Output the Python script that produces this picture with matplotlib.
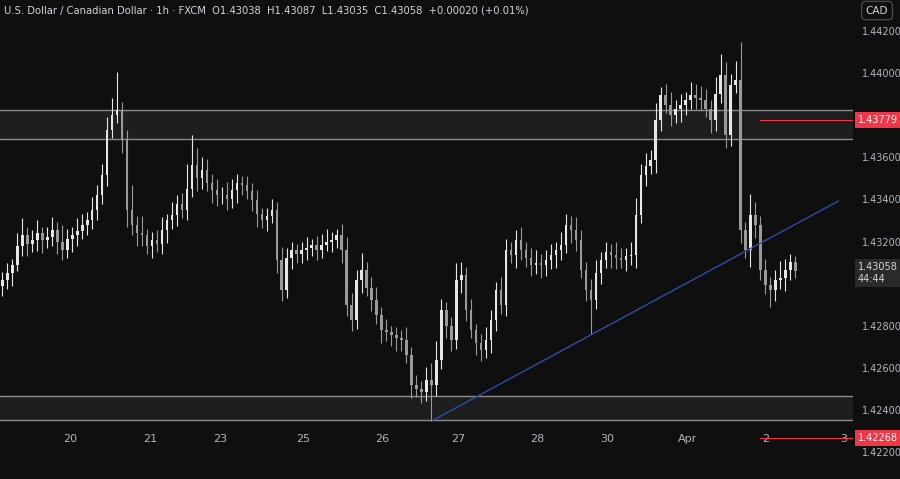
"""USD/CAD 1h candlestick chart, TradingView dark style."""

import numpy as np
import matplotlib
matplotlib.use("Agg")
import matplotlib.pyplot as plt

BG = "#0f0f0f"
TXT = "#b2b5be"

# hourly-ish closes (sampled)
closes = [
    1.43017, 1.43050, 1.43088, 1.43180, 1.43231, 1.43190, 1.43207, 1.43240, 1.43207, 1.43220,
    1.43255, 1.43200, 1.43160, 1.43210, 1.43231, 1.43250, 1.43279, 1.43300, 1.43350, 1.43420,
    1.43516, 1.43730, 1.43801, 1.43825, 1.43682, 1.43350, 1.43279, 1.43240, 1.43231, 1.43180,
    1.43207, 1.43190, 1.43255, 1.43300, 1.43326, 1.43380, 1.43350, 1.43450, 1.43564, 1.43500,
    1.43540, 1.43480, 1.43445, 1.43420, 1.43421, 1.43400, 1.43445, 1.43480, 1.43469, 1.43440,
    1.43397, 1.43330, 1.43302, 1.43320, 1.43350, 1.43112, 1.42970, 1.43120, 1.43160, 1.43140,
    1.43160, 1.43170, 1.43184, 1.43160, 1.43184, 1.43200, 1.43207, 1.43231, 1.43160, 1.42898,
    1.42827, 1.43017, 1.43065, 1.42980, 1.42922, 1.42850, 1.42780, 1.42770, 1.42756, 1.42740,
    1.42732, 1.42661, 1.42518, 1.42500, 1.42485, 1.42542, 1.42518, 1.42637, 1.42875, 1.42800,
    1.42732, 1.43017, 1.43041, 1.42875, 1.42780, 1.42720, 1.42685, 1.42732, 1.42827, 1.42970,
    1.42898, 1.43160, 1.43136, 1.43207, 1.43160, 1.43120, 1.43088, 1.43100, 1.43088, 1.43110,
    1.43136, 1.43160, 1.43184, 1.43279, 1.43255, 1.43207, 1.43065, 1.42970, 1.42922, 1.43050,
    1.43112, 1.43150, 1.43136, 1.43120, 1.43112, 1.43130, 1.43136, 1.43326, 1.43516, 1.43560,
    1.43587, 1.43777, 1.43896, 1.43850, 1.43801, 1.43830, 1.43849, 1.43870, 1.43896, 1.43880,
    1.43873, 1.43830, 1.43777, 1.43900, 1.43991, 1.43706, 1.43944, 1.43967, 1.43255, 1.43160,
    1.43326, 1.43279, 1.43065, 1.42993, 1.42970, 1.43017, 1.43027, 1.43065, 1.43103, 1.43058,
]
first_open = 1.42990

# wick lengths in pips above the body / below the body
hi_wick = [
    4, 5, 3, 6, 8, 4, 5, 6, 3, 5,
    6, 4, 8, 5, 4, 6, 5, 4, 6, 5,
    5, 6, 8, 18, 4, 5, 12, 4, 8, 3,
    4, 5, 6, 3, 6, 4, 5, 12, 14, 8,
    6, 5, 4, 5, 4, 6, 5, 4, 3, 4,
    4, 5, 3, 4, 5, 4, 6, 5, 4, 3,
    4, 5, 3, 4, 5, 6, 4, 3, 5, 6,
    6, 5, 8, 4, 5, 6, 4, 5, 3, 4,
    4, 6, 4, 5, 4, 6, 8, 9, 5, 4,
    4, 8, 6, 4, 5, 3, 4, 6, 5, 4,
    6, 5, 4, 5, 6, 4, 5, 6, 4, 5,
    5, 4, 6, 5, 4, 6, 5, 4, 5, 6,
    4, 5, 4, 6, 5, 4, 6, 8, 5, 6,
    5, 8, 4, 5, 6, 4, 5, 4, 6, 5,
    6, 5, 4, 8, 10, 6, 5, 9, 18, 4,
    10, 6, 4, 5, 4, 5, 8, 5, 4, 3,
]
lo_wick = [
    5, 4, 6, 3, 5, 6, 4, 5, 6, 4,
    4, 6, 5, 4, 6, 5, 4, 5, 4, 5,
    4, 5, 4, 4, 6, 8, 5, 6, 5, 4,
    6, 4, 5, 6, 4, 5, 4, 5, 4, 6,
    5, 4, 6, 5, 4, 5, 4, 6, 5, 4,
    5, 6, 4, 5, 3, 6, 5, 4, 5, 4,
    4, 5, 4, 5, 4, 3, 5, 4, 6, 5,
    5, 4, 6, 4, 5, 4, 6, 4, 5, 6,
    5, 4, 6, 4, 5, 4, 17, 5, 4, 6,
    5, 4, 6, 5, 4, 6, 5, 4, 6, 5,
    4, 5, 4, 6, 5, 4, 5, 4, 6, 5,
    4, 6, 5, 4, 6, 5, 4, 5, 16, 4,
    5, 4, 6, 5, 4, 5, 4, 6, 4, 5,
    4, 6, 5, 4, 5, 4, 6, 5, 4, 5,
    5, 4, 6, 5, 4, 6, 5, 4, 6, 4,
    8, 6, 5, 4, 8, 5, 4, 6, 5, 3,
]

day_labels = ["20", "21", "23", "25", "26", "27", "28", "30", "Apr", "2", "3"]
day_pos = [13.6, 29.6, 43.6, 60.4, 76.2, 91.4, 107.2, 121.2, 137.4, 153.0, 168.6]

price_ticks = [1.422, 1.424, 1.426, 1.428, 1.432, 1.434, 1.436, 1.440, 1.442]
upper_zone = (1.43687, 1.43825)
lower_zone = (1.42352, 1.42466)
trend_pts = ([86.4, 167.6], [1.42352, 1.43392])
levels = [1.43779, 1.42268]
last_price = 1.43058

fig = plt.figure(figsize=(9, 4.79), dpi=100, facecolor=BG)
ax = fig.add_axes([0, 0.035, 0.948, 0.965], facecolor=BG)

c = np.array(closes)
o = np.concatenate([[first_open], c[:-1]])
hi = np.maximum(o, c) + np.array(hi_wick) * 1e-4
lo = np.minimum(o, c) - np.array(lo_wick) * 1e-4
x = np.arange(len(c))
up = c >= o
col = np.where(up, "#e6e6e6", "#9a9a9a")

ax.vlines(x, lo, hi, colors=col, linewidth=0.8, zorder=3)
ax.bar(x, np.maximum(np.abs(c - o), 0.00003), bottom=np.minimum(o, c),
       width=0.5, color=col, zorder=4)

for lo_z, hi_z in (upper_zone, lower_zone):
    ax.axhspan(lo_z, hi_z, color="#1e1e1e", zorder=1)
    ax.axhline(lo_z, color="#8a8a8a", lw=1, zorder=2)
    ax.axhline(hi_z, color="#8a8a8a", lw=1, zorder=2)

ax.plot(trend_pts[0], trend_pts[1], color="#2b4fa3", lw=1, zorder=5)

xmax = 170.6
for lv in levels:
    ax.plot([152, xmax], [lv, lv], color="#f23645", lw=0.8, zorder=5)

ax.set_xlim(-0.5, xmax)
ax.set_ylim(1.42152, 1.44347)

ax.set_xticks(day_pos)
ax.set_xticklabels(day_labels)
ax.tick_params(axis="x", direction="in", length=0, pad=-20, colors=TXT, labelsize=8)
ax.yaxis.tick_right()
ax.set_yticks(price_ticks)
ax.set_yticklabels([f"{v:.5f}" for v in price_ticks])
ax.tick_params(axis="y", length=0, pad=6, colors=TXT, labelsize=7)
for s in ax.spines.values():
    s.set_visible(False)

# price tags on the right axis
tr = ax.get_yaxis_transform()
for lv in levels:
    ax.text(1.005, lv, f"{lv:.5f}", transform=tr, ha="left", va="center", color="white",
            fontsize=7, bbox=dict(boxstyle="square,pad=0.3", fc="#f23645", ec="none"),
            clip_on=False, zorder=10)
ax.text(1.005, last_price - 0.00008, f"{last_price:.5f}\n44:44", transform=tr, ha="left",
        va="center", color="#d1d4dc", fontsize=7, linespacing=1.2,
        bbox=dict(boxstyle="square,pad=0.3", fc="#2a2a2a", ec="none"), clip_on=False, zorder=10)

fig.text(0.962, 0.978, "CAD", color="#d1d4dc", fontsize=7.5, ha="left", va="center",
         bbox=dict(boxstyle="round,pad=0.4", fc=BG, ec="#434651"))
fig.text(0.004, 0.978,
         "U.S. Dollar / Canadian Dollar · 1h · FXCM  O1.43038  H1.43087  L1.43035  C1.43058  +0.00020 (+0.01%)",
         color="#d1d4dc", fontsize=7.2, ha="left", va="center")

fig.savefig("out.png", dpi=100, facecolor=BG)
